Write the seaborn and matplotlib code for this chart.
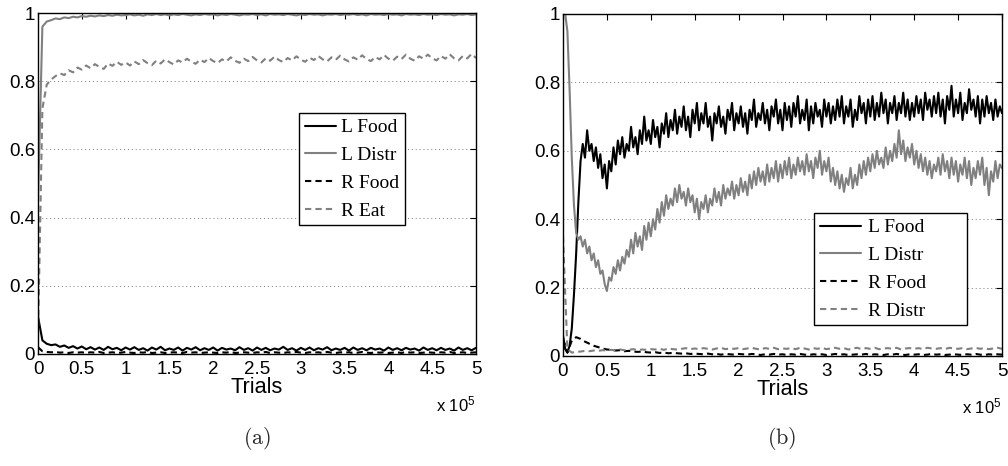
import numpy as np
import pandas as pd
import matplotlib
matplotlib.use("Agg")
import matplotlib.pyplot as plt
import seaborn as sns

# ---------------- data ----------------
# panel (a): sampled every 5000 trials
trials_a = np.arange(0, 500001, 5000)
a_L_Food = [0.11, 0.040, 0.030, 0.026, 0.028, 0.021, 0.025, 0.018, 0.023, 0.016, 0.022,
            0.014, 0.020, 0.013, 0.019, 0.012, 0.021, 0.014, 0.018, 0.011, 0.019,
            0.013, 0.020, 0.012, 0.017, 0.010, 0.019, 0.013, 0.021, 0.011, 0.016,
            0.012, 0.019, 0.010, 0.018, 0.013, 0.020, 0.011, 0.017, 0.012, 0.019,
            0.010, 0.018, 0.013, 0.016, 0.011, 0.020, 0.012, 0.017, 0.010, 0.019,
            0.012, 0.018, 0.011, 0.016, 0.013, 0.021, 0.012, 0.017, 0.010, 0.018,
            0.012, 0.019, 0.011, 0.017, 0.013, 0.020, 0.011, 0.016, 0.012, 0.018,
            0.010, 0.019, 0.012, 0.017, 0.011, 0.018, 0.013, 0.016, 0.010, 0.019,
            0.012, 0.017, 0.011, 0.018, 0.013, 0.016, 0.010, 0.019, 0.012, 0.017,
            0.011, 0.018, 0.012, 0.016, 0.010, 0.019, 0.012, 0.017, 0.011, 0.018]
a_L_Distr = [0.45, 0.960, 0.975, 0.979, 0.984, 0.982, 0.987, 0.985, 0.989, 0.987, 0.991,
             0.989, 0.992, 0.990, 0.993, 0.991, 0.994, 0.992, 0.995, 0.993, 0.994,
             0.996, 0.993, 0.995, 0.992, 0.996, 0.994, 0.997, 0.994, 0.996, 0.993,
             0.996, 0.994, 0.997, 0.995, 0.993, 0.996, 0.994, 0.997, 0.995, 0.996,
             0.993, 0.996, 0.994, 0.997, 0.995, 0.993, 0.996, 0.995, 0.997, 0.994,
             0.996, 0.993, 0.997, 0.995, 0.996, 0.994, 0.997, 0.995, 0.993, 0.996,
             0.994, 0.997, 0.995, 0.996, 0.993, 0.996, 0.995, 0.997, 0.994, 0.996,
             0.995, 0.997, 0.994, 0.996, 0.993, 0.997, 0.995, 0.996, 0.994, 0.997,
             0.995, 0.996, 0.993, 0.997, 0.995, 0.996, 0.994, 0.997, 0.995, 0.996,
             0.994, 0.997, 0.995, 0.996, 0.993, 0.996, 0.995, 0.997, 0.994, 0.996]
a_R_Food = [0.020, 0.008, 0.006, 0.005, 0.006, 0.004, 0.005, 0.003, 0.005, 0.004, 0.005,
            0.003, 0.005, 0.004, 0.006, 0.003, 0.004, 0.005, 0.003, 0.004, 0.006,
            0.004, 0.003, 0.005, 0.004, 0.006, 0.003, 0.004, 0.005, 0.003, 0.004,
            0.005, 0.004, 0.003, 0.006, 0.004, 0.005, 0.003, 0.004, 0.005, 0.004,
            0.003, 0.005, 0.004, 0.006, 0.003, 0.004, 0.005, 0.004, 0.003, 0.005,
            0.004, 0.006, 0.003, 0.005, 0.004, 0.003, 0.005, 0.004, 0.006, 0.004,
            0.003, 0.005, 0.004, 0.005, 0.003, 0.006, 0.004, 0.003, 0.005, 0.004,
            0.005, 0.003, 0.004, 0.006, 0.004, 0.003, 0.005, 0.004, 0.005, 0.003,
            0.004, 0.005, 0.003, 0.006, 0.004, 0.005, 0.003, 0.004, 0.005, 0.004,
            0.003, 0.005, 0.004, 0.006, 0.003, 0.004, 0.005, 0.003, 0.004, 0.005]
a_R_Eat = [0.05, 0.72, 0.790, 0.805, 0.815, 0.823, 0.818, 0.832, 0.826, 0.840, 0.834,
           0.846, 0.838, 0.850, 0.842, 0.836, 0.852, 0.845, 0.857, 0.848, 0.855,
           0.846, 0.858, 0.850, 0.862, 0.853, 0.847, 0.860, 0.852, 0.864, 0.856,
           0.849, 0.861, 0.855, 0.866, 0.857, 0.851, 0.863, 0.856, 0.868, 0.859,
           0.853, 0.864, 0.858, 0.870, 0.860, 0.854, 0.866, 0.859, 0.871, 0.861,
           0.855, 0.867, 0.860, 0.872, 0.862, 0.856, 0.868, 0.861, 0.873, 0.863,
           0.857, 0.869, 0.862, 0.874, 0.864, 0.858, 0.870, 0.863, 0.875, 0.864,
           0.858, 0.870, 0.863, 0.876, 0.865, 0.859, 0.871, 0.864, 0.877, 0.866,
           0.860, 0.872, 0.865, 0.878, 0.866, 0.860, 0.873, 0.866, 0.878, 0.867,
           0.861, 0.874, 0.866, 0.879, 0.867, 0.861, 0.874, 0.867, 0.880, 0.868]

# panel (b): solid curves sampled every 2500 trials
trials_b = np.arange(0, 500001, 2500)
b_L_Food = [0.06, 0.02, 0.01, 0.03, 0.08, 0.18, 0.30, 0.45, 0.57, 0.62,
            0.58, 0.66, 0.60, 0.62, 0.57, 0.61, 0.55, 0.59, 0.52, 0.56,
            0.49, 0.57, 0.54, 0.61, 0.56, 0.63, 0.59, 0.64, 0.58, 0.62,
            0.60, 0.67, 0.61, 0.64, 0.59, 0.66, 0.62, 0.70, 0.63, 0.66,
            0.62, 0.69, 0.64, 0.67, 0.61, 0.68, 0.65, 0.71, 0.64, 0.69,
            0.66, 0.72, 0.65, 0.70, 0.67, 0.73, 0.66, 0.70, 0.64, 0.72,
            0.68, 0.74, 0.66, 0.71, 0.68, 0.74, 0.67, 0.70, 0.63, 0.71,
            0.68, 0.73, 0.67, 0.70, 0.65, 0.72, 0.69, 0.74, 0.66, 0.71,
            0.68, 0.73, 0.67, 0.71, 0.65, 0.72, 0.69, 0.75, 0.67, 0.71,
            0.69, 0.74, 0.68, 0.72, 0.66, 0.73, 0.70, 0.75, 0.68, 0.72,
            0.66, 0.74, 0.69, 0.73, 0.67, 0.74, 0.70, 0.76, 0.68, 0.72,
            0.69, 0.75, 0.66, 0.73, 0.68, 0.74, 0.70, 0.72, 0.67, 0.75,
            0.70, 0.74, 0.68, 0.73, 0.69, 0.75, 0.70, 0.76, 0.68, 0.73,
            0.70, 0.75, 0.67, 0.72, 0.69, 0.76, 0.71, 0.74, 0.68, 0.75,
            0.70, 0.76, 0.69, 0.74, 0.70, 0.77, 0.71, 0.75, 0.68, 0.74,
            0.71, 0.76, 0.69, 0.74, 0.71, 0.77, 0.70, 0.75, 0.69, 0.74,
            0.70, 0.76, 0.71, 0.75, 0.69, 0.77, 0.72, 0.75, 0.70, 0.76,
            0.71, 0.77, 0.70, 0.75, 0.68, 0.76, 0.72, 0.79, 0.70, 0.75,
            0.71, 0.77, 0.69, 0.74, 0.71, 0.78, 0.72, 0.75, 0.70, 0.76,
            0.68, 0.75, 0.70, 0.76, 0.71, 0.74, 0.69, 0.75, 0.70, 0.73,
            0.71]
b_L_Distr = [1.00, 1.00, 0.95, 0.78, 0.58, 0.44, 0.36, 0.34, 0.35, 0.32,
             0.34, 0.30, 0.32, 0.28, 0.30, 0.26, 0.28, 0.24, 0.25, 0.21,
             0.19, 0.23, 0.22, 0.26, 0.24, 0.28, 0.25, 0.29, 0.27, 0.31,
             0.29, 0.34, 0.30, 0.36, 0.32, 0.35, 0.31, 0.38, 0.34, 0.39,
             0.35, 0.40, 0.37, 0.43, 0.39, 0.45, 0.41, 0.47, 0.43, 0.46,
             0.44, 0.49, 0.45, 0.50, 0.46, 0.48, 0.44, 0.49, 0.45, 0.47,
             0.42, 0.46, 0.40, 0.45, 0.43, 0.47, 0.42, 0.46, 0.44, 0.49,
             0.45, 0.48, 0.44, 0.50, 0.46, 0.49, 0.47, 0.51, 0.46, 0.50,
             0.47, 0.52, 0.48, 0.51, 0.47, 0.53, 0.49, 0.54, 0.50, 0.55,
             0.51, 0.54, 0.50, 0.56, 0.51, 0.55, 0.52, 0.57, 0.51, 0.56,
             0.52, 0.57, 0.53, 0.58, 0.52, 0.56, 0.53, 0.58, 0.54, 0.57,
             0.53, 0.59, 0.54, 0.57, 0.52, 0.58, 0.55, 0.60, 0.53, 0.57,
             0.54, 0.58, 0.51, 0.55, 0.50, 0.54, 0.49, 0.53, 0.48, 0.52,
             0.50, 0.55, 0.49, 0.53, 0.50, 0.56, 0.52, 0.57, 0.53, 0.58,
             0.54, 0.59, 0.55, 0.60, 0.56, 0.58, 0.55, 0.61, 0.56, 0.60,
             0.57, 0.62, 0.58, 0.66, 0.59, 0.63, 0.57, 0.61, 0.58, 0.62,
             0.56, 0.60, 0.55, 0.59, 0.54, 0.58, 0.53, 0.57, 0.52, 0.56,
             0.54, 0.58, 0.53, 0.59, 0.54, 0.57, 0.52, 0.58, 0.53, 0.57,
             0.51, 0.56, 0.53, 0.58, 0.52, 0.57, 0.50, 0.55, 0.52, 0.57,
             0.53, 0.58, 0.50, 0.55, 0.47, 0.54, 0.51, 0.57, 0.52, 0.56,
             0.55]
# panel (b): dashed curves sampled every 5000 trials
trials_b2 = np.arange(0, 500001, 5000)
b_R_Food = [0.050, 0.010, 0.045, 0.055, 0.050, 0.042, 0.036, 0.030, 0.026, 0.022, 0.019,
            0.018, 0.016, 0.017, 0.014, 0.015, 0.013, 0.012, 0.013, 0.011, 0.010,
            0.011, 0.009, 0.010, 0.008, 0.009, 0.008, 0.007, 0.008, 0.006, 0.007,
            0.006, 0.005, 0.007, 0.005, 0.006, 0.004, 0.006, 0.005, 0.004, 0.006,
            0.005, 0.004, 0.006, 0.005, 0.003, 0.005, 0.004, 0.006, 0.004, 0.005,
            0.003, 0.005, 0.004, 0.006, 0.004, 0.003, 0.005, 0.004, 0.005, 0.003,
            0.004, 0.006, 0.004, 0.005, 0.003, 0.004, 0.005, 0.004, 0.006, 0.003,
            0.005, 0.004, 0.003, 0.005, 0.004, 0.006, 0.004, 0.003, 0.005, 0.004,
            0.005, 0.003, 0.004, 0.006, 0.004, 0.005, 0.003, 0.004, 0.005, 0.004,
            0.003, 0.005, 0.004, 0.006, 0.004, 0.003, 0.005, 0.004, 0.005, 0.004]
b_R_Distr = [0.350, 0.020, 0.010, 0.012, 0.013, 0.015, 0.014, 0.016, 0.015, 0.017, 0.016,
             0.018, 0.016, 0.019, 0.017, 0.018, 0.020, 0.017, 0.019, 0.018, 0.020,
             0.019, 0.021, 0.018, 0.022, 0.020, 0.019, 0.021, 0.023, 0.020, 0.022,
             0.020, 0.023, 0.021, 0.019, 0.022, 0.024, 0.020, 0.022, 0.021, 0.023,
             0.020, 0.022, 0.024, 0.021, 0.019, 0.023, 0.021, 0.024, 0.020, 0.022,
             0.021, 0.023, 0.020, 0.024, 0.022, 0.019, 0.023, 0.021, 0.024, 0.020,
             0.022, 0.024, 0.021, 0.023, 0.019, 0.022, 0.024, 0.020, 0.023, 0.021,
             0.024, 0.020, 0.022, 0.023, 0.021, 0.024, 0.019, 0.022, 0.023, 0.021,
             0.023, 0.020, 0.024, 0.022, 0.021, 0.023, 0.020, 0.024, 0.022, 0.021,
             0.023, 0.020, 0.022, 0.024, 0.021, 0.023, 0.020, 0.022, 0.024, 0.021]

xtick_vals = [0, 50000, 100000, 150000, 200000, 250000, 300000, 350000, 400000, 450000, 500000]
xtick_labels = ["0", "0.5", "1", "1.5", "2", "2.5", "3", "3.5", "4", "4.5", "5"]
ytick_vals = [0, 0.2, 0.4, 0.6, 0.8, 1.0]
ytick_labels = ["0", "0.2", "0.4", "0.6", "0.8", "1"]
labels_a = ["L Food", "L Distr", "R Food", "R Eat"]
labels_b = ["L Food", "L Distr", "R Food", "R Distr"]

# ---------------- style ----------------
sns.set_theme(style="white")
plt.rcParams["font.family"] = ["Liberation Sans", "DejaVu Sans"]
plt.rcParams["mathtext.fontset"] = "custom"
plt.rcParams["mathtext.rm"] = "Liberation Sans"
plt.rcParams["mathtext.it"] = "Liberation Sans"
plt.rcParams["lines.scale_dashes"] = True

GRAY = (0.5, 0.5, 0.5)
BLACK = (0.0, 0.0, 0.0)
LW = 1.5
DASH = (3, 2)

W, H = 1008, 466
fig = plt.figure(figsize=(W / 100, H / 100), dpi=100)
axA = fig.add_axes([38 / W, 1 - 354 / H, (476 - 38) / W, (354 - 13) / H])
axB = fig.add_axes([563 / W, 1 - 356 / H, (1002 - 563) / W, (356 - 14) / H])


def draw(ax, series):
    for x, y, col, dashed, lab in series:
        kw = dict(dashes=DASH) if dashed else {}
        sns.lineplot(x=x, y=y, ax=ax, color=col, lw=LW, label=lab,
                     estimator=None, sort=False, legend=False, **kw)


draw(axA, [(trials_a, a_L_Food, BLACK, False, labels_a[0]),
           (trials_a, a_L_Distr, GRAY, False, labels_a[1]),
           (trials_a, a_R_Food, BLACK, True, labels_a[2]),
           (trials_a, a_R_Eat, GRAY, True, labels_a[3])])
draw(axB, [(trials_b, b_L_Food, BLACK, False, labels_b[0]),
           (trials_b, b_L_Distr, GRAY, False, labels_b[1]),
           (trials_b2, b_R_Food, BLACK, True, labels_b[2]),
           (trials_b2, b_R_Distr, GRAY, True, labels_b[3])])

for ax in (axA, axB):
    ax.set_xlim(0, 500000)
    ax.set_ylim(0, 1)
    ax.set_xticks(xtick_vals)
    ax.set_xticklabels(xtick_labels)
    ax.set_yticks(ytick_vals)
    ax.set_yticklabels(ytick_labels)
    ax.tick_params(axis="both", direction="in", length=4, width=0.8,
                   top=True, right=True, labelsize=13.5, colors="black")
    ax.tick_params(axis="x", pad=5)
    ax.tick_params(axis="y", pad=2)
    ax.yaxis.grid(True, linestyle=(0, (1, 3)), color="#777777", lw=0.7)
    ax.xaxis.grid(False)
    for s in ax.spines.values():
        s.set_visible(True)
        s.set_color("black")
        s.set_linewidth(1.0)
    ax.set_xlabel("Trials", fontsize=15.6, labelpad=-1, color="black")
    ax.set_ylabel("")
    ax.text(1.0, -0.168, r"x 10$^{5}$", transform=ax.transAxes,
            ha="right", va="baseline", fontsize=12, color="black")
    ax.set_facecolor("white")


def legend(ax, labels, anchor, hl, htp):
    leg = ax.legend(ax.lines[:4], labels, loc="upper left",
                    bbox_to_anchor=(anchor[0] / W, 1 - anchor[1] / H),
                    bbox_transform=fig.transFigure, borderaxespad=0,
                    frameon=True, fancybox=False, shadow=False,
                    edgecolor="black", framealpha=1,
                    prop={"family": "Liberation Serif", "size": 14},
                    handlelength=hl, handletextpad=htp, labelspacing=0.52,
                    borderpad=0.3)
    leg.get_frame().set_linewidth(1.0)
    for t in leg.get_texts():
        t.set_color("black")
    return leg


legend(axA, labels_a, (299, 113), 1.6, 0.25)
# panel (b) legend box is wider than its text: pad labels on the right
legend(axB, [lab + "       " for lab in labels_b], (814, 213), 2.1, 0.4)

fig.text(257 / W, 1 - 438 / H, r"$\mathrm{(a)}$", math_fontfamily="cm",
         fontsize=16, ha="center", va="center")
fig.text(782 / W, 1 - 438 / H, r"$\mathrm{(b)}$", math_fontfamily="cm",
         fontsize=16, ha="center", va="center")

fig.savefig("out.png", dpi=100, facecolor="white")
